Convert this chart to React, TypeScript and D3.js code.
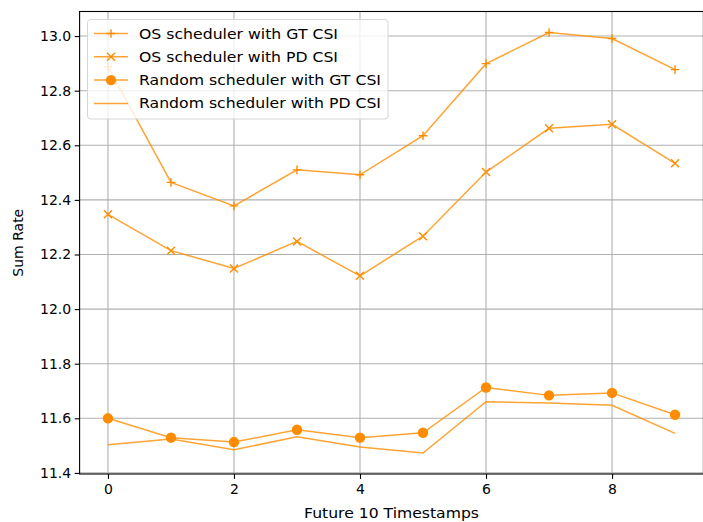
import React, { useEffect, useRef } from 'react';
import * as d3 from 'd3';

const timestamps = [0, 1, 2, 3, 4, 5, 6, 7, 8, 9];
const osGt = [12.888, 12.464, 12.378, 12.51, 12.492, 12.635, 12.899, 13.013, 12.991, 12.877];
const osPd = [12.347, 12.214, 12.149, 12.248, 12.122, 12.267, 12.502, 12.662, 12.677, 12.534];
const randGt = [11.6, 11.529, 11.513, 11.558, 11.529, 11.547, 11.713, 11.684, 11.693, 11.613];
const randPd = [11.503, 11.524, 11.485, 11.532, 11.495, 11.473, 11.661, 11.656, 11.648, 11.545];
const seriesNames = [
  'OS scheduler with GT CSI',
  'OS scheduler with PD CSI',
  'Random scheduler with GT CSI',
  'Random scheduler with PD CSI',
];
const markers = ['plus', 'x', 'circle', 'none'];
const xTicks = [0, 2, 4, 6, 8];
const yTicks = [11.4, 11.6, 11.8, 12.0, 12.2, 12.4, 12.6, 12.8, 13.0];

const W = 703;
const H = 522;
const ORANGE = '#ff8c00';
const FONT = 'DejaVu Sans, sans-serif';

function drawMarker(g, kind, cx, cy) {
  if (kind === 'plus') {
    g.append('path')
      .attr('d', `M${cx - 4.3},${cy}H${cx + 4.3}M${cx},${cy - 4.3}V${cy + 4.3}`)
      .attr('stroke', ORANGE).attr('stroke-width', 1.4);
  } else if (kind === 'x') {
    g.append('path')
      .attr('d', `M${cx - 4},${cy - 4}L${cx + 4},${cy + 4}M${cx - 4},${cy + 4}L${cx + 4},${cy - 4}`)
      .attr('stroke', ORANGE).attr('stroke-width', 1.4);
  } else if (kind === 'circle') {
    g.append('circle').attr('cx', cx).attr('cy', cy).attr('r', 5.2).attr('fill', ORANGE);
  }
}

const App = () => {
  const svgRef = useRef(null);

  useEffect(() => {
    const svg = d3.select(svgRef.current);
    svg.selectAll('*').remove();

    const left = 79.6, right = 703.4, top = 11.5, bottom = 474;
    const x = d3.scaleLinear().domain([-0.45, 9.45]).range([left, right]);
    const y = d3.scaleLinear().domain([11.396, 13.09]).range([bottom, top]);

    svg.append('rect').attr('width', W).attr('height', H).attr('fill', '#fff');

    // grid
    const grid = svg.append('g').attr('stroke', '#b0b0b0').attr('stroke-width', 1.1);
    xTicks.forEach(t => grid.append('line').attr('x1', x(t)).attr('x2', x(t)).attr('y1', top).attr('y2', bottom));
    yTicks.forEach(t => grid.append('line').attr('x1', left).attr('x2', right).attr('y1', y(t)).attr('y2', y(t)));

    // axes
    const xAxis = svg.append('g')
      .attr('transform', `translate(0,${bottom})`)
      .call(d3.axisBottom(x).tickValues(xTicks).tickFormat(d3.format('d')).tickSize(4.9).tickPadding(4.9));
    const yAxis = svg.append('g')
      .attr('transform', `translate(${left},0)`)
      .call(d3.axisLeft(y).tickValues(yTicks).tickFormat(d3.format('.1f')).tickSize(4.9).tickPadding(3.5));
    [xAxis, yAxis].forEach(a => {
      a.select('.domain').remove();
      a.selectAll('line').attr('stroke', '#000').attr('stroke-width', 1.1);
      a.selectAll('text').attr('font-family', FONT).attr('font-size', 14).attr('fill', '#000');
    });

    // spines
    svg.append('rect')
      .attr('x', left).attr('y', top).attr('width', right - left).attr('height', bottom - top)
      .attr('fill', 'none').attr('stroke', '#000').attr('stroke-width', 1.1);

    // series
    const all = [osGt, osPd, randGt, randPd];
    const line = d3.line().x((d, i) => x(timestamps[i])).y(d => y(d));
    all.forEach((vals, si) => {
      const g = svg.append('g');
      g.append('path').attr('d', line(vals)).attr('fill', 'none')
        .attr('stroke', ORANGE).attr('stroke-opacity', 0.8).attr('stroke-width', 1.5);
      vals.forEach((v, i) => drawMarker(g, markers[si], x(timestamps[i]), y(v)));
    });

    // legend
    const legendWidths = [199, 199, 242, 242];
    const lg = svg.append('g');
    lg.append('rect').attr('x', 87.5).attr('y', 19.5).attr('width', 300.5).attr('height', 99.5)
      .attr('rx', 3).attr('fill', '#fff').attr('fill-opacity', 0.8)
      .attr('stroke', '#d6d6d6').attr('stroke-width', 1);
    seriesNames.forEach((name, i) => {
      const cy = 33.5 + i * 23.3;
      lg.append('line').attr('x1', 94).attr('x2', 128).attr('y1', cy).attr('y2', cy)
        .attr('stroke', ORANGE).attr('stroke-opacity', 0.8).attr('stroke-width', 1.5);
      drawMarker(lg, markers[i], 111, cy);
      lg.append('text').attr('x', 139).attr('y', cy).attr('dy', '0.35em')
        .attr('font-family', FONT).attr('font-size', 14.5).attr('fill', '#000')
        .attr('textLength', legendWidths[i]).attr('lengthAdjust', 'spacingAndGlyphs')
        .text(name);
    });

    // axis labels
    svg.append('text').attr('x', 304).attr('y', 518)
      .attr('font-family', FONT).attr('font-size', 14)
      .attr('textLength', 175).attr('lengthAdjust', 'spacingAndGlyphs')
      .text('Future 10 Timestamps');
    svg.append('text').attr('transform', `translate(23,${(top + bottom) / 2}) rotate(-90)`)
      .attr('text-anchor', 'middle').attr('font-family', FONT).attr('font-size', 14)
      .text('Sum Rate');
  }, []);

  return (
    <svg ref={svgRef} width={W} height={H}
      style={{ position: 'fixed', left: 0, top: 0, display: 'block' }} />
  );
};

export default App;
